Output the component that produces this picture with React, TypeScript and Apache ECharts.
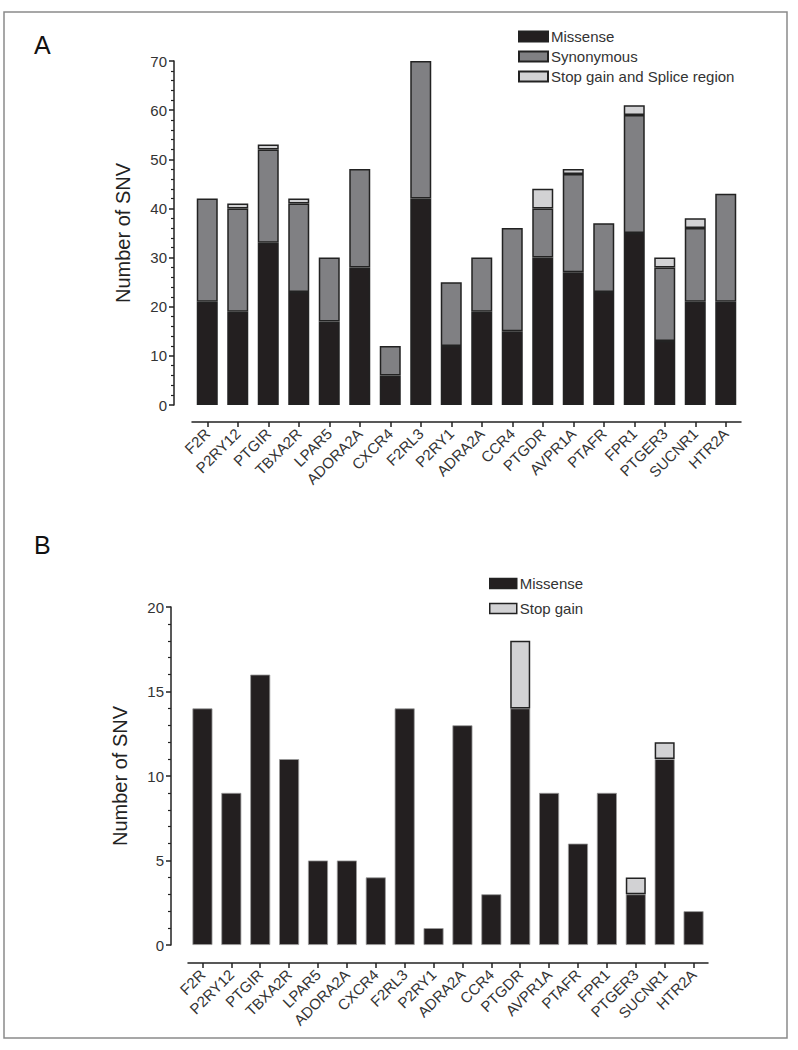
import React, { useEffect, useRef } from "react";
import * as echarts from "echarts";

const genes = ["F2R", "P2RY12", "PTGIR", "TBXA2R", "LPAR5", "ADORA2A", "CXCR4", "F2RL3", "P2RY1", "ADRA2A", "CCR4", "PTGDR", "AVPR1A", "PTAFR", "FPR1", "PTGER3", "SUCNR1", "HTR2A"];

// Panel A
const aMissense = [21, 19, 33, 23, 17, 28, 6, 42, 12, 19, 15, 30, 27, 23, 35, 13, 21, 21];
const aSynonymous = [21, 21, 19, 18, 13, 20, 6, 28, 13, 11, 21, 10, 20, 14, 24, 15, 15, 22];
const aStopSplice = [0, 1, 1, 1, 0, 0, 0, 0, 0, 0, 0, 4, 1, 0, 2, 2, 2, 0];

// Panel B
const bMissense = [14, 9, 16, 11, 5, 5, 4, 14, 1, 13, 3, 14, 9, 6, 9, 3, 11, 2];
const bStopGain = [0, 0, 0, 0, 0, 0, 0, 0, 0, 0, 0, 4, 0, 0, 0, 1, 1, 0];

const FONT = "'Liberation Sans', Arial, Helvetica, sans-serif";
const BLACK = "#231f20";
const GRAY = "#808083";
const LIGHT = "#d2d2d4";
const TXT = "#333333";

const nz = (arr: number[]) => arr.map((v) => (v === 0 ? null : v));

export default function App() {
  const ref = useRef<HTMLDivElement>(null);
  useEffect(() => {
    document.body.style.margin = "0";
    if (!ref.current) return;
    const chart = echarts.init(ref.current, null, { renderer: "svg" });

    const yAxisVisible = (max: number, interval: number, offset: number, gridIndex: number) => ({
      type: "value",
      gridIndex,
      min: 0,
      max,
      interval,
      offset,
      name: "Number of SNV",
      nameLocation: "middle",
      nameRotate: 90,
      nameGap: 41,
      nameTextStyle: { fontFamily: FONT, fontSize: 20, color: "#222" },
      axisLine: { show: true, onZero: false, lineStyle: { color: "#222", width: 1.5 } },
      axisTick: { show: true, length: 5, lineStyle: { color: "#222", width: 1.5 } },
      minorTick: { show: true, splitNumber: 5, length: 3, lineStyle: { color: "#222", width: 1.2 } },
      splitLine: { show: false },
      axisLabel: { fontFamily: FONT, fontSize: 15, color: TXT, margin: 7 },
    });

    const yAxisHidden = (gridIndex: number) => ({
      type: "value",
      gridIndex,
      min: 0,
      max: 1,
      show: false,
    });

    const xAxisHidden = (gridIndex: number) => ({
      type: "category",
      gridIndex,
      data: genes,
      show: false,
    });

    const xAxisVisible = (gridIndex: number) => ({
      type: "category",
      gridIndex,
      data: genes,
      axisLine: { show: true, onZero: false, lineStyle: { color: "#222", width: 1.5 } },
      axisTick: { show: true, alignWithLabel: true, length: 5, lineStyle: { color: "#222", width: 1.5 } },
      axisLabel: { fontFamily: FONT, fontSize: 15, color: TXT, rotate: 45, margin: 9, interval: 0 },
      splitLine: { show: false },
    });

    const barStyle = (color: string, border: string) => ({
      color,
      borderColor: border,
      borderWidth: 1.5,
    });

    chart.setOption({
      animation: false,
      backgroundColor: "#ffffff",
      textStyle: { fontFamily: FONT },
      grid: [
        { left: 192, right: 57, top: 61, height: 344 },
        { left: 188, right: 90, top: 607, height: 338 },
        { left: 192, right: 57, top: 78, height: 344 },
        { left: 188, right: 90, top: 625, height: 338 },
      ],
      xAxis: [xAxisHidden(0), xAxisHidden(1), xAxisVisible(2), xAxisVisible(3)],
      yAxis: [yAxisVisible(70, 10, 18, 0), yAxisVisible(20, 5, 17, 1), yAxisHidden(2), yAxisHidden(3)],
      legend: [
        {
          orient: "vertical",
          left: 518,
          top: 29,
          padding: 0,
          itemWidth: 29,
          itemHeight: 10,
          itemGap: 5,
          icon: "rect",
          data: ["Missense", "Synonymous", "Stop gain and Splice region"],
          textStyle: { fontFamily: FONT, fontSize: 15, color: TXT, padding: [0, 0, 0, -2] },
          selectedMode: false,
        },
        {
          orient: "vertical",
          left: 489,
          top: 576,
          padding: 0,
          itemWidth: 27,
          itemHeight: 10,
          itemGap: 10,
          icon: "rect",
          data: ["Missense ", "Stop gain"],
          itemStyle: { borderColor: "#222", borderWidth: 1.5 },
          textStyle: { fontFamily: FONT, fontSize: 15, color: TXT, padding: [0, 0, 0, -2] },
          selectedMode: false,
          formatter: (n: string) => n.trim(),
        },
      ],
      graphic: [
        {
          type: "rect",
          shape: { x: 4, y: 12, width: 783, height: 1026 },
          style: { fill: "none", stroke: "#8a8a8a", lineWidth: 1.5 },
          silent: true,
        },
        { type: "text", left: 34, top: 32, style: { text: "A", fontFamily: FONT, fontSize: 25, fill: "#111" } },
        { type: "text", left: 34, top: 532, style: { text: "B", fontFamily: FONT, fontSize: 25, fill: "#111" } },
      ],
      series: [
        {
          name: "Missense",
          type: "bar",
          stack: "a",
          xAxisIndex: 0,
          yAxisIndex: 0,
          barWidth: 21,
          data: aMissense,
          itemStyle: barStyle(BLACK, "#222"),
        },
        {
          name: "Synonymous",
          type: "bar",
          stack: "a",
          xAxisIndex: 0,
          yAxisIndex: 0,
          barWidth: 21,
          data: aSynonymous,
          itemStyle: barStyle(GRAY, "#222"),
        },
        {
          name: "Stop gain and Splice region",
          type: "bar",
          stack: "a",
          xAxisIndex: 0,
          yAxisIndex: 0,
          barWidth: 21,
          data: nz(aStopSplice),
          itemStyle: barStyle(LIGHT, "#222"),
        },
        {
          name: "Missense ",
          type: "bar",
          stack: "b",
          xAxisIndex: 1,
          yAxisIndex: 1,
          barWidth: 20,
          data: bMissense,
          itemStyle: { color: BLACK, borderColor: "#9a9a9a", borderWidth: 0.8 },
        },
        {
          name: "Stop gain",
          type: "bar",
          stack: "b",
          xAxisIndex: 1,
          yAxisIndex: 1,
          barWidth: 20,
          data: nz(bStopGain),
          itemStyle: barStyle(LIGHT, "#222"),
        },
      ],
    });
    return () => chart.dispose();
  }, []);
  return <div ref={ref} style={{ width: 798, height: 1050 }} />;
}
